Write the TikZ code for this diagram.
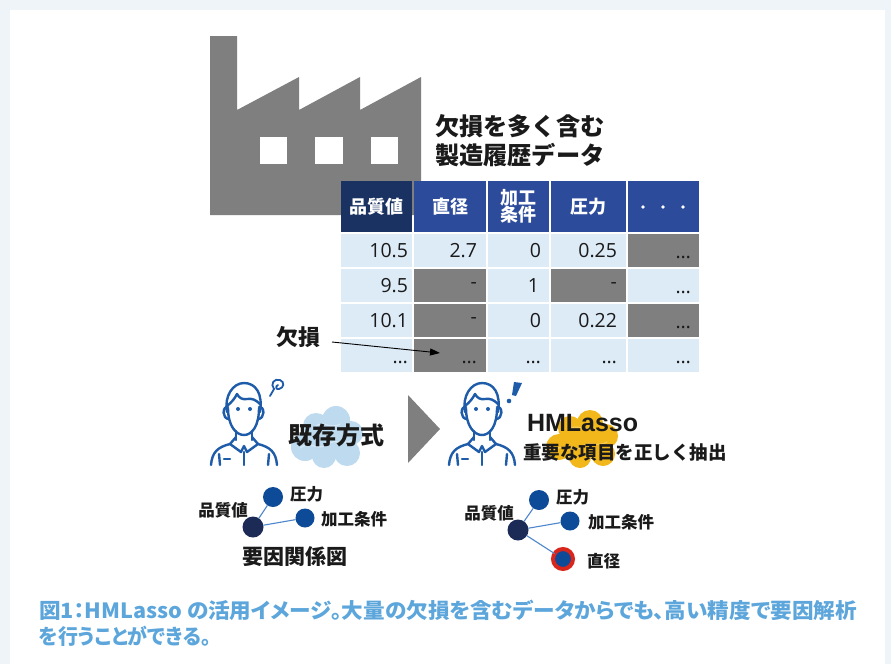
\documentclass[tikz,border=0pt]{standalone}
\usepackage{graphicx}
\usepackage{fontspec}
\usetikzlibrary{arrows.meta}
\setmainfont{Open Sans}
\newfontfamily\jp{Noto Sans CJK JP}
\newfontfamily\jpcap{Noto Sans CJK JP}[RawFeature=+palt]
\newfontfamily\arialb{Liberation Sans}

\definecolor{framebg}{HTML}{EFF4F8}
\definecolor{factory}{HTML}{7F7F7F}
\definecolor{hdrnavy}{HTML}{1A3262}
\definecolor{hdrblue}{HTML}{2D4B9B}
\definecolor{cellblue}{HTML}{DDEBF7}
\definecolor{cellgrey}{HTML}{7F7F7F}
\definecolor{personblue}{HTML}{1E5BA8}
\definecolor{cloudblue}{HTML}{BDDAEF}
\definecolor{cloudblueln}{HTML}{D6E8F5}
\definecolor{cloudyellow}{HTML}{F2B71B}
\definecolor{cloudyellowln}{HTML}{F6CB55}
\definecolor{nodenavy}{HTML}{1C2A56}
\definecolor{nodeblue}{HTML}{0D4A98}
\definecolor{edgeblue}{HTML}{4E86CC}
\definecolor{ringred}{HTML}{D8261C}
\definecolor{captionblue}{HTML}{5CA6DC}
\definecolor{txt}{HTML}{1A1A1A}

\tikzset{
  hdr/.style={minimum height=51pt, text=white, align=center,
    font=\jp\bfseries\fontsize{18}{18}\selectfont},
  bcell/.style={minimum height=33pt},
  num/.style={font=\fontsize{19.5}{19.5}\selectfont, text=txt},
  jplabel/.style={font=\jp\bfseries\fontsize{16.5}{17}\selectfont, text=txt},
  gnode/.style={circle, minimum size=20pt},
  gedge/.style={draw=edgeblue, line width=1.1pt},
  pline/.style={draw=personblue, line width=2.4pt, line cap=round, line join=round},
  pics/person/.style={code={
    % hair and head
    \draw[pline] (-16,2) .. controls (-19,-14) and (-10,-27) .. (1,-27)
                 .. controls (13,-27) and (20,-16) .. (17,2);
    \draw[pline] (-16,-4) .. controls (-11,-8) and (-8,-12) .. (-6,-16)
                 .. controls (-4,-12) and (0,-10) .. (4,-11)
                 .. controls (9,-12) and (13,-10) .. (17,-6);
    \draw[pline] (-15,-2) .. controls (-15,16) and (-7,25) .. (1,25)
                 .. controls (9,25) and (16,16) .. (16,-2);
    % ears
    \draw[pline] (-15,-3) .. controls (-21,-4) and (-21,9) .. (-14,9);
    \draw[pline] (16,-3) .. controls (22,-4) and (22,9) .. (15,9);
    % eyes
    \fill[personblue] (-5,-1) circle (2) (7,-1) circle (2);
    % neck and collar
    \draw[pline] (-7,21) -- (-7,30);
    \draw[pline] (9,21) -- (9,30);
    \draw[pline] (-7,27) -- (-13,34) -- (-2,42) -- (1,36) -- (4,42) -- (15,34) -- (9,27);
    % shoulders and shirt
    \draw[pline] (-13,34) .. controls (-25,37) and (-31,42) .. (-32,55);
    \draw[pline] (15,34) .. controls (27,37) and (33,42) .. (34,55);
    \draw[pline] (1,42) -- (1,55);
    \draw[pline] (-24,44) -- (-23,55);
    \draw[pline] (26,44) -- (25,55);
    \draw[pline] (-19,49) -- (-13,49);
  }},
}

\begin{document}
\begin{tikzpicture}[x=1pt,y=-1pt, every node/.style={inner sep=0pt, outer sep=0pt}]
\useasboundingbox (0,0) rectangle (891,664);
\fill[framebg] (0,0) rectangle (891,664);
\fill[white] (10,10) rectangle (885,664);

% factory
\fill[factory] (210,215) -- (210,36) -- (237,36) -- (237,110) -- (299,77) -- (299,110)
  -- (360,77) -- (360,110) -- (421,77) -- (421,215) -- cycle;
\fill[white] (260,137) rectangle (287,164);
\fill[white] (315,137) rectangle (343,164);
\fill[white] (371,137) rectangle (398,164);

\node[anchor=west, font=\jp\bfseries\fontsize{24.2}{24}\selectfont, text=txt] (title1) at (435,126) {欠損を多く含む};
\node[anchor=west, font=\jp\bfseries\fontsize{24.2}{24}\selectfont, text=txt] (title2) at (435,155) {製造履歴データ};

% table header
\node[hdr, fill=hdrnavy, minimum width=71pt] (h1) at (376.5,206.5) {品質値};
\node[hdr, fill=hdrblue, minimum width=72pt] (h2) at (450,206.5) {直径};
\node[hdr, fill=hdrblue, minimum width=61pt] (h3) at (518.5,206.5) {加工\\[-1pt]条件};
\node[hdr, fill=hdrblue, minimum width=75pt] (h4) at (588.5,206.5) {圧力};
\node[hdr, fill=hdrblue, minimum width=71pt] (h5) at (663.5,206.5) {};
\fill[white] (643,207) circle (1.8) (663,207) circle (1.8) (683,207) circle (1.8);

% table body
\foreach \r/\y in {1/250.5,2/285.5,3/320.5,4/355.5}{
  \node[bcell, fill=cellblue, minimum width=71pt] (c\r1) at (376.5,\y) {};
  \node[bcell, fill=cellblue, minimum width=72pt] (c\r2) at (450,\y) {};
  \node[bcell, fill=cellblue, minimum width=61pt] (c\r3) at (518.5,\y) {};
  \node[bcell, fill=cellblue, minimum width=75pt] (c\r4) at (588.5,\y) {};
  \node[bcell, fill=cellblue, minimum width=71pt] (c\r5) at (663.5,\y) {};
}
\foreach \c in {c15,c22,c24,c32,c35,c42}{
  \fill[cellgrey] (\c.south west) rectangle (\c.north east);
}

\newcommand\valtext[4]{\node[num, anchor=east] (#1) at ([xshift=-#3pt]#2.east) {#4};}
\newcommand\dottext[3]{\node[num, anchor=east] (#1) at ([xshift=-#3pt,yshift=-7pt]#2.east) {…};}
\valtext{t11}{c11}{4}{10.5}
\valtext{t12}{c12}{9}{2.7}
\valtext{t13}{c13}{8}{0}
\valtext{t14}{c14}{9}{0.25}
\dottext{t15}{c15}{8}
\valtext{t21}{c21}{4}{9.5}
\valtext{t22}{c22}{9}{-}
\valtext{t23}{c23}{10}{1}
\valtext{t24}{c24}{9}{-}
\dottext{t25}{c25}{8}
\valtext{t31}{c31}{4}{10.1}
\valtext{t32}{c32}{9}{-}
\valtext{t33}{c33}{8}{0}
\valtext{t34}{c34}{9}{0.22}
\dottext{t35}{c35}{8}
\dottext{t41}{c41}{4}
\dottext{t42}{c42}{9}
\dottext{t43}{c43}{8}
\dottext{t44}{c44}{9}
\dottext{t45}{c45}{8}

% missing-value pointer
\node[font=\jp\bfseries\fontsize{22}{22}\selectfont, text=txt] (kesson) at (298,337) {欠損};
\coordinate (ptr) at (332,342);
\draw[line width=0.9pt, -{Triangle[length=10pt,width=7pt]}] (ptr) -- ([xshift=26pt,yshift=2.5pt]c42.west);

% conventional method
\fill[cloudblue] (305,447) circle (14) (316,426) circle (13) (336,420) circle (14)
  (351,433) circle (12) (347,453) circle (13) (324,456) circle (12) (328,438) circle (19);
\draw[cloudblueln, line width=1.3pt, line cap=round] (300,448) .. controls (310,440) and (318,452) .. (328,444)
  .. controls (336,438) and (342,446) .. (352,440);
\draw[cloudblueln, line width=1.3pt, line cap=round] (316,426) .. controls (324,420) and (330,430) .. (340,424);
\pic at (243,410) {person};
\draw[personblue, line width=1.8pt, line cap=round] (270,396) -- (274,389);
\draw[personblue, line width=1.8pt, line cap=round] (274,389) .. controls (270,384) and (274,378) .. (280,380)
  .. controls (285,382) and (284,388) .. (279,389) .. controls (276,390) and (275,386) .. (278,385);
\node[font=\jp\bfseries\fontsize{24}{24}\selectfont, text=txt] (kizon) at (336.5,435) {既存方式};

% transition arrow
\fill[factory] (408,395) -- (440,429) -- (408,463) -- cycle;

% HMLasso
\fill[cloudyellow] (559,447) circle (13) (570,428) circle (12) (590,423) circle (13)
  (606,436) circle (12) (603,454) circle (12) (580,457) circle (11) (584,440) circle (18);
\draw[cloudyellowln, line width=1.3pt, line cap=round] (555,450) .. controls (565,442) and (573,454) .. (583,446)
  .. controls (591,440) and (597,448) .. (607,442);
\draw[cloudyellowln, line width=1.3pt, line cap=round] (570,429) .. controls (578,423) and (584,433) .. (594,427);
\pic at (481,410) {person};
\fill[white] (483,419) -- (470,419) arc (180:0:6.5) -- cycle;
\fill[personblue] (514,382) -- (522,383) -- (516,396) -- (512,395) -- cycle;
\fill[personblue] (509,401) circle (2.3);
\node[anchor=west, font=\arialb\bfseries\fontsize{25}{25}\selectfont, text=txt] (hml) at (527,423) {HMLasso};
\node[anchor=west, font=\jp\bfseries\fontsize{18.5}{19}\selectfont, text=txt] (hmlsub) at (523,452) {重要な項目を正しく抽出};

% factor graph, conventional
\node[gnode, fill=nodenavy, minimum size=21pt] (q1) at (253,527) {};
\node[gnode, fill=nodeblue] (p1) at (273,497) {};
\node[gnode, fill=nodeblue, minimum size=19pt] (k1) at (305,518) {};
\draw[gedge] (q1) -- (p1);
\draw[gedge] (q1) -- (k1);
\node[jplabel] (lq1) at (223,510) {品質値};
\node[jplabel] (lp1) at (306.5,494) {圧力};
\node[jplabel] (lk1) at (354,519) {加工条件};
\node[font=\jp\bfseries\fontsize{21}{21}\selectfont, text=txt] (lg1) at (294.5,557) {要因関係図};

% factor graph, HMLasso
\node[gnode, fill=nodenavy, minimum size=21pt] (q2) at (518,530) {};
\node[gnode, fill=nodeblue] (p2) at (539,500) {};
\node[gnode, fill=nodeblue, minimum size=19pt] (k2) at (570,521) {};
\node[gnode, fill=nodeblue, draw=ringred, line width=4pt] (d2) at (563,559) {};
\draw[gedge] (q2) -- (p2);
\draw[gedge] (q2) -- (k2);
\draw[gedge] (q2) -- (d2);
\node[jplabel] (lq2) at (489,513) {品質値};
\node[jplabel] (lp2) at (572.5,497) {圧力};
\node[jplabel] (lk2) at (621,522) {加工条件};
\node[jplabel] (ld2) at (603.5,561) {直径};

% caption
\node[anchor=west, font=\jpcap\bfseries\fontsize{21}{21}\selectfont, text=captionblue] (cap1) at (39,610)
  {\resizebox{818pt}{\height}{図1：HMLasso の活用イメージ。大量の欠損を含むデータからでも、高い精度で要因解析}};
\node[anchor=west, font=\jpcap\bfseries\fontsize{21}{21}\selectfont, text=captionblue] (cap2) at (39,636)
  {\resizebox{172pt}{\height}{を行うことができる。}};
\end{tikzpicture}
\end{document}
